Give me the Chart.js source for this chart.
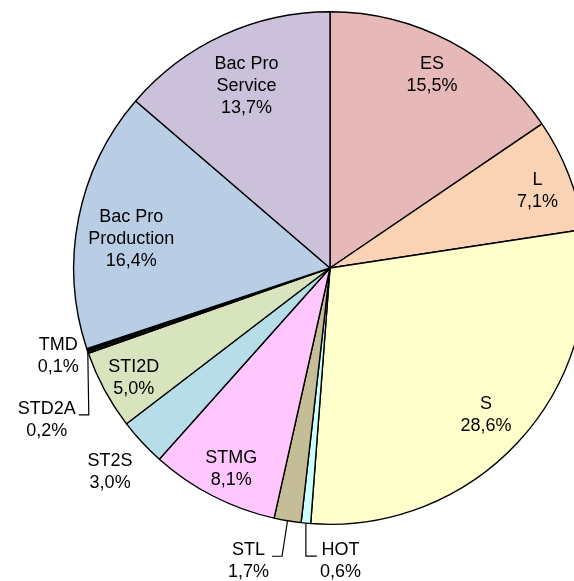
<!DOCTYPE html>
<html>
<head>
<meta charset="utf-8">
<script src="https://cdn.jsdelivr.net/npm/chart.js@4"></script>
<style>
  html, body { margin: 0; padding: 0; background: #fff; overflow: hidden; }
  #wrap { position: relative; width: 660px; height: 581px; }
</style>
</head>
<body>
<div id="wrap"><canvas id="camembert"></canvas></div>
<script>
// séries, dans l'ordre des aiguilles d'une montre depuis midi
const filieres = ['ES', 'L', 'S', 'HOT', 'STL', 'STMG', 'ST2S', 'STI2D', 'STD2A', 'TMD', 'Bac Pro Production', 'Bac Pro Service'];
const parts = [15.5, 7.1, 28.6, 0.6, 1.7, 8.1, 3.0, 5.0, 0.2, 0.1, 16.4, 13.7];
const couleurs = ['#E6B8B7', '#FAD3B4', '#FFFFCC', '#CCFFFF', '#C4BD97', '#FFC6FF', '#B7DEE8', '#D7E4BD', '#111111', '#000080', '#B9CDE5', '#CCC1DA'];

// texte de chaque étiquette (lignes)
const etiquettes = [
    ['ES'], ['L'], ['S'], ['HOT'], ['STL'], ['STMG'], ['ST2S'], ['STI2D'], ['STD2A'], ['TMD'],
    ['Bac Pro', 'Production'], ['Bac Pro', 'Service']
];

// placement : rayon relatif (+ petit décalage) pour les étiquettes simples, ou ligne de rappel
const placement = {
    'ES': { f: 0.85 }, 'L': { f: 0.87, dy: 4 }, 'S': { f: 0.83, dy: 2 }, 'STMG': { f: 0.87, dx: 3, dy: 3 },
    'ST2S': { f: 1.17 }, 'STI2D': { f: 0.88, dx: 2, dy: 3 }, 'TMD': { f: 1.11, dx: -2, dy: -2 },
    'Bac Pro Production': { f: 0.79, dy: 10 }, 'Bac Pro Service': { f: 0.78 },
    'STD2A': { coude: [1, 63], queue: -10 },
    'STL': { coude: [-5.5, 35.5], queue: -10 },
    'HOT': { coude: [0, 33], queue: 11 }
};

const police = '18px "Liberation Sans", Arial, sans-serif';
const interligne = 22;

function pourcent(v) {
    return v.toFixed(1).replace('.', ',') + '%';
}

const etiquettesPlugin = {
    id: 'etiquettes',
    afterDatasetsDraw(chart) {
        const ctx = chart.ctx;
        const arcs = chart.getDatasetMeta(0).data;
        ctx.save();
        ctx.font = police;
        ctx.fillStyle = '#000';
        ctx.strokeStyle = '#000';
        ctx.lineWidth = 1.2;
        ctx.textBaseline = 'middle';
        ctx.textAlign = 'center';
        arcs.forEach((arc, i) => {
            const nom = filieres[i];
            const lignes = etiquettes[i].concat([pourcent(parts[i])]);
            const p = placement[nom];
            const mid = (arc.startAngle + arc.endAngle) / 2;
            let cx, cy;
            if (p.f !== undefined) {
                cx = arc.x + Math.cos(mid) * arc.outerRadius * p.f + (p.dx || 0);
                cy = arc.y + Math.sin(mid) * arc.outerRadius * p.f - (lignes.length - 1) * interligne / 2 + (p.dy || 0);
            } else {
                const bx = arc.x + Math.cos(mid) * arc.outerRadius;
                const by = arc.y + Math.sin(mid) * arc.outerRadius;
                const ex = bx + p.coude[0];
                const ey = by + p.coude[1];
                const qx = ex + p.queue;
                ctx.beginPath();
                ctx.moveTo(bx, by);
                ctx.lineTo(ex, ey);
                ctx.lineTo(qx, ey);
                ctx.stroke();
                const w = Math.max(...lignes.map(l => ctx.measureText(l).width));
                cx = qx + Math.sign(p.queue) * (3 + w / 2);
                cy = ey - 6;
            }
            lignes.forEach((l, k) => ctx.fillText(l, cx, cy + k * interligne));
        });
        ctx.restore();
    }
};

new Chart(document.getElementById('camembert'), {
    type: 'pie',
    data: {
        labels: filieres,
        datasets: [{
            data: parts,
            backgroundColor: couleurs,
            borderColor: '#000',
            borderWidth: 1.4
        }]
    },
    options: {
        responsive: true,
        maintainAspectRatio: false,
        animation: false,
        layout: { padding: { top: 11, bottom: 56 } },
        plugins: {
            legend: { display: false },
            tooltip: { enabled: false }
        }
    },
    plugins: [etiquettesPlugin]
});
</script>
</body>
</html>
